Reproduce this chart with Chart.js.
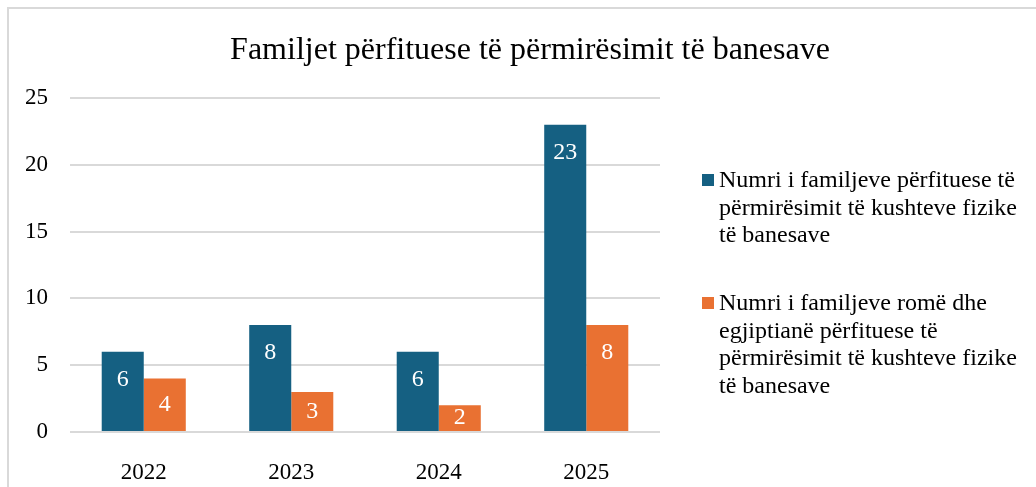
<!DOCTYPE html>
<html>
<head>
<meta charset="utf-8">
<script src="https://cdn.jsdelivr.net/npm/chart.js@4/dist/chart.umd.min.js"></script>
<style>
  body { margin: 0; background: #fff; overflow: hidden; }
  #wrap { position: relative; width: 1036px; height: 487px; }
  #frame { position: absolute; left: 7px; top: 7px; width: 1100px; height: 600px;
           border-left: 2px solid #d9d9d9; border-top: 2px solid #d9d9d9; }
  #chart { position: absolute; left: 0; top: 0; }
  #title { position: absolute; left: 30px; top: 28px; width: 1000px; text-align: center;
           font-family: 'Liberation Serif', 'Times New Roman', serif; font-size: 32px;
           line-height: 40px; color: #000; white-space: nowrap; }
  #legend { position: absolute; left: 702px; top: 166px; width: 320px;
            font-family: 'Liberation Serif', 'Times New Roman', serif; font-size: 24px;
            line-height: 27.5px; color: #000; }
  .item { position: relative; padding-left: 17px; margin-bottom: 40.5px; }
  .box { position: absolute; left: 0; top: 8px; width: 12px; height: 12px; }
</style>
</head>
<body>
<div id="wrap">
  <div id="frame"></div>
  <canvas id="chart" width="1036" height="487"></canvas>
  <div id="title"></div>
  <div id="legend"></div>
</div>
<script>
// Chart data
const title = "Familjet përfituese të përmirësimit të banesave";
const years = ["2022", "2023", "2024", "2025"];
const seriesNames = [
    "Numri i familjeve përfituese të përmirësimit të kushteve fizike të banesave",
    "Numri i familjeve romë dhe egjiptianë përfituese të përmirësimit të kushteve fizike të banesave"
];
const allFamilies = [6, 8, 6, 23];
const romaEgyptian = [4, 3, 2, 8];
const colors = ["#156082", "#E97132"];

const serif = "'Liberation Serif', 'Times New Roman', serif";

// Values written inside the top of each bar
const barLabels = {
    id: 'barLabels',
    afterDatasetsDraw(chart) {
        const ctx = chart.ctx;
        ctx.save();
        ctx.fillStyle = '#fff';
        ctx.font = '24px ' + serif;
        ctx.textAlign = 'center';
        ctx.textBaseline = 'middle';
        chart.data.datasets.forEach((ds, i) => {
            chart.getDatasetMeta(i).data.forEach((bar, j) => {
                const y = Math.min(bar.y + 28, (bar.y + bar.base) / 2);
                ctx.fillText(ds.data[j], bar.x, y);
            });
        });
        ctx.restore();
    }
};

function buildLegend() {
    const legend = document.getElementById('legend');
    seriesNames.forEach((name, i) => {
        const item = document.createElement('div');
        item.className = 'item';
        const box = document.createElement('span');
        box.className = 'box';
        box.style.background = colors[i];
        item.appendChild(box);
        item.appendChild(document.createTextNode(name));
        legend.appendChild(item);
    });
}

function createChart() {
    document.getElementById('title').textContent = title;
    const ctx = document.getElementById('chart').getContext('2d');
    new Chart(ctx, {
        type: 'bar',
        data: {
            labels: years,
            datasets: [
                { label: seriesNames[0], data: allFamilies, backgroundColor: colors[0] },
                { label: seriesNames[1], data: romaEgyptian, backgroundColor: colors[1] }
            ]
        },
        options: {
            responsive: false,
            animation: false,
            categoryPercentage: 0.57,
            barPercentage: 1,
            layout: { padding: { left: 0, right: 376, top: 98, bottom: 0 } },
            plugins: {
                legend: { display: false },
                tooltip: { enabled: false },
                title: { display: false }
            },
            scales: {
                x: {
                    grid: { display: false },
                    border: { display: false },
                    ticks: { color: '#000', padding: 19, font: { family: serif, size: 23 } },
                    afterFit(scale) { scale.height = 55; }
                },
                y: {
                    min: 0,
                    max: 25,
                    grid: { color: '#d9d9d9', lineWidth: 2, drawTicks: false },
                    border: { display: false },
                    ticks: { stepSize: 5, color: '#000', padding: 22, font: { family: serif, size: 23 } },
                    afterFit(scale) { scale.width = 70; }
                }
            }
        },
        plugins: [barLabels]
    });
}

buildLegend();
createChart();
</script>
</body>
</html>
